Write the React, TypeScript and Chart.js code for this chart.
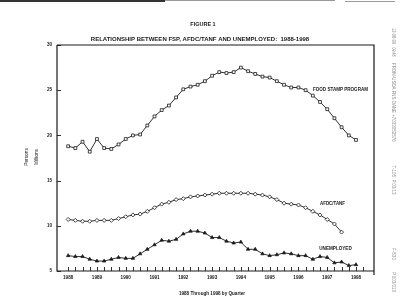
import React, { useEffect, useRef } from "react";
import { Chart, registerables } from "chart.js";

Chart.register(...registerables);

const years = [1988, 1989, 1990, 1991, 1992, 1993, 1994, 1995, 1996, 1997, 1998];
const quarters = ["Q1", "Q2", "Q3", "Q4"];
const quarterLabels = years.flatMap((yr) => quarters.map((q) => `${yr} ${q}`)).slice(0, 41);

const foodStamp = [
  18.8, 18.6, 19.3, 18.2, 19.6, 18.6, 18.5, 19.0, 19.6, 20.0,
  20.1, 21.1, 22.1, 22.8, 23.3, 24.2, 25.1, 25.4, 25.6, 26.0,
  26.6, 27.0, 26.9, 27.0, 27.5, 27.1, 26.8, 26.5, 26.4, 26.0,
  25.6, 25.3, 25.3, 25.0, 24.4, 23.7, 22.9, 21.9, 20.9, 20.0, 19.5,
];
const afdcTanf = [
  10.7, 10.6, 10.5, 10.5, 10.6, 10.6, 10.6, 10.8, 11.0, 11.2,
  11.3, 11.6, 12.0, 12.4, 12.6, 12.9, 13.0, 13.2, 13.3, 13.4,
  13.5, 13.6, 13.6, 13.6, 13.6, 13.6, 13.5, 13.4, 13.2, 12.9,
  12.5, 12.4, 12.3, 12.0, 11.6, 11.2, 10.7, 10.2, 9.3,
];
const unemployed = [
  6.7, 6.6, 6.6, 6.3, 6.1, 6.1, 6.3, 6.5, 6.4, 6.4,
  6.9, 7.4, 7.9, 8.4, 8.3, 8.5, 9.1, 9.4, 9.4, 9.2,
  8.7, 8.7, 8.3, 8.1, 8.2, 7.4, 7.4, 6.9, 6.7, 6.8,
  7.0, 6.9, 6.7, 6.7, 6.3, 6.6, 6.5, 5.9, 6.0, 5.6, 5.7,
];
const yTickValues = [5, 10, 15, 20, 25, 30];

const INK = "#1a1a1a";
const FONT = '"Liberation Sans", Arial, sans-serif';

const toPoints = (arr: number[]) => arr.map((v, i) => ({ x: i, y: v }));

const decor = {
  id: "decor",
  afterDraw(chart: any) {
    const { ctx, chartArea: a, scales } = chart;
    const x = scales.x;
    const y = scales.y;
    ctx.save();
    ctx.strokeStyle = INK;
    ctx.lineWidth = 1.2;
    // frame
    ctx.beginPath();
    ctx.moveTo(a.left, a.top);
    ctx.lineTo(a.right, a.top);
    ctx.lineTo(a.right, a.bottom + 4);
    ctx.moveTo(a.left, a.top);
    ctx.lineTo(a.left, a.bottom);
    ctx.lineTo(a.right, a.bottom);
    ctx.stroke();
    // quarter ticks
    ctx.lineWidth = 0.9;
    ctx.beginPath();
    for (let i = 0; i <= quarterLabels.length; i++) {
      const px = Math.round(x.getPixelForValue(i)) + 0.5;
      ctx.moveTo(px, a.bottom);
      ctx.lineTo(px, a.bottom - 4);
    }
    for (const v of yTickValues) {
      const py = Math.round(y.getPixelForValue(v)) + 0.5;
      ctx.moveTo(a.left, py);
      ctx.lineTo(a.left + 4, py);
    }
    ctx.stroke();

    // scan edge marks
    ctx.fillStyle = "#333";
    ctx.fillRect(0, 0, 165, 2);
    ctx.fillStyle = "#999";
    ctx.fillRect(165, 0, 170, 1);
    ctx.fillRect(345, 1, 50, 1);

    const text = (s: string, cx: number, cy: number, w: number, font: string, color = INK) => {
      ctx.font = font;
      ctx.fillStyle = color;
      ctx.textAlign = "center";
      ctx.textBaseline = "middle";
      ctx.fillText(s, cx, cy, w);
    };

    text("FIGURE 1", 203, 24, 30, `bold 5.5px ${FONT}`);
    text("RELATIONSHIP BETWEEN FSP, AFDC/TANF AND UNEMPLOYED:  1988-1998", 200, 39.5, 225, `bold 6px ${FONT}`);
    text("FOOD STAMP PROGRAM", 340.5, 90, 55, `bold 4.6px ${FONT}`);
    text("AFDC/TANF", 332.5, 204, 25, `bold 4.6px ${FONT}`);
    text("UNEMPLOYED", 335.5, 249, 33, `bold 4.6px ${FONT}`);
    text("1988 Through 1998 by Quarter", 212, 294, 69, `bold 4.6px ${FONT}`);

    const vtext = (s: string, cx: number, cy: number, w: number, font: string, rot: number, color = INK) => {
      ctx.save();
      ctx.translate(cx, cy);
      ctx.rotate(rot);
      ctx.font = font;
      ctx.fillStyle = color;
      ctx.textAlign = "center";
      ctx.textBaseline = "middle";
      ctx.fillText(s, 0, 0, w);
      ctx.restore();
    };
    vtext("Persons", 27, 157, 20, `4.8px ${FONT}`, -Math.PI / 2);
    vtext("Millions", 37, 157, 20, `4.8px ${FONT}`, -Math.PI / 2);

    // fax header along the right edge
    const gray = "#8a8a8a";
    vtext("12-08-99", 393, 36, 16, `4.5px ${FONT}`, Math.PI / 2, gray);
    vtext("09:48", 393, 52, 9, `4.5px ${FONT}`, Math.PI / 2, gray);
    vtext("FROM-USDA FNS OANE", 393, 88, 50, `4.5px ${FONT}`, Math.PI / 2, gray);
    vtext("+7033052576", 393, 128, 30, `4.5px ${FONT}`, Math.PI / 2, gray);
    vtext("T-105  P.03/13", 393, 180, 38, `4.5px ${FONT}`, Math.PI / 2, gray);
    vtext("F-530", 393, 254, 16, `4.5px ${FONT}`, Math.PI / 2, gray);
    vtext("P.003/013", 393, 282, 22, `4.5px ${FONT}`, Math.PI / 2, gray);
    ctx.restore();
  },
};

export default function App() {
  const ref = useRef<HTMLCanvasElement | null>(null);

  useEffect(() => {
    if (!ref.current) return;
    const tickFont = { family: FONT, size: 4.6, weight: "bold" as const };
    const chart = new Chart(ref.current, {
      type: "line",
      data: {
        datasets: [
          {
            label: "FOOD STAMP PROGRAM",
            data: toPoints(foodStamp),
            borderColor: INK,
            borderWidth: 0.9,
            pointStyle: "rect",
            pointRadius: 2,
            pointBorderWidth: 0.8,
            pointBorderColor: INK,
            pointBackgroundColor: "#fff",
            tension: 0,
          },
          {
            label: "AFDC/TANF",
            data: toPoints(afdcTanf),
            borderColor: INK,
            borderWidth: 0.9,
            pointStyle: "rectRot",
            pointRadius: 2,
            pointBorderWidth: 0.8,
            pointBorderColor: INK,
            pointBackgroundColor: "#fff",
            tension: 0,
          },
          {
            label: "UNEMPLOYED",
            data: toPoints(unemployed),
            borderColor: INK,
            borderWidth: 0.9,
            pointStyle: "triangle",
            pointRadius: 2,
            pointBorderWidth: 0.7,
            pointBorderColor: INK,
            pointBackgroundColor: INK,
            tension: 0,
          },
        ],
      },
      options: {
        animation: false,
        responsive: false,
        devicePixelRatio: 1,
        layout: { padding: { top: 45, right: 26, left: 0, bottom: 0 } },
        plugins: {
          legend: { display: false },
          tooltip: { enabled: false },
          title: { display: false },
        },
        scales: {
          x: {
            type: "linear",
            min: -1.55,
            max: 42.5,
            afterFit: (s: any) => {
              s.height = 37;
            },
            grid: { display: false, drawTicks: false },
            border: { display: false },
            ticks: {
              stepSize: 4,
              includeBounds: false,
              autoSkip: false,
              maxRotation: 0,
              padding: 4,
              color: INK,
              font: tickFont,
              callback: (v: any) => {
                const n = Number(v);
                const i = Math.round(n);
                if (Math.abs(n - i) > 1e-6 || i < 0 || i % 4 !== 0) return "";
                const yr = years[i / 4];
                return yr ? String(yr) : "";
              },
            },
          },
          y: {
            min: 5,
            max: 30,
            afterFit: (s: any) => {
              s.width = 57;
            },
            grid: { display: false, drawTicks: false },
            border: { display: false },
            ticks: {
              stepSize: 5,
              padding: 5,
              color: INK,
              font: tickFont,
            },
          },
        },
      },
      plugins: [decor],
    });
    return () => chart.destroy();
  }, []);

  return (
    <div style={{ position: "absolute", left: 0, top: 0, width: 400, height: 308, background: "#fff" }}>
      <canvas ref={ref} width={400} height={308} style={{ display: "block" }} />
    </div>
  );
}
